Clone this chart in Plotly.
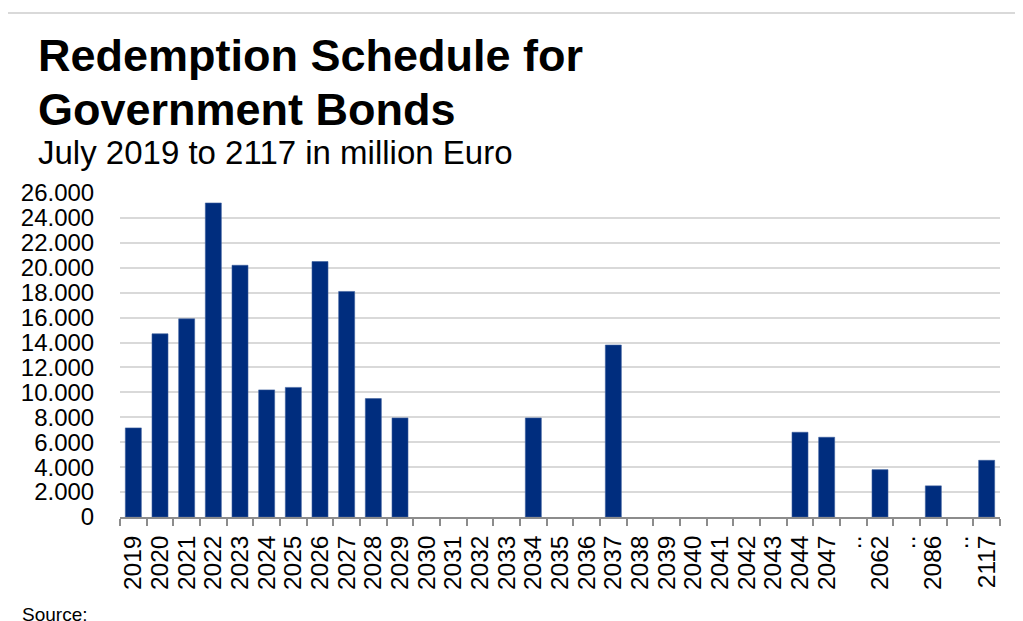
import plotly.graph_objects as go

# redemption schedule, million euro
years = ["2019", "2020", "2021", "2022", "2023", "2024", "2025", "2026", "2027",
         "2028", "2029", "2030", "2031", "2032", "2033", "2034", "2035", "2036",
         "2037", "2038", "2039", "2040", "2041", "2042", "2043", "2044", "2047",
         "..", "2062", "..", "2086", "..", "2117"]
redemptions = [7150, 14700, 15900, 25200, 20200, 10200, 10400, 20500, 18100,
               9500, 7950, 0, 0, 0, 0, 7950, 0, 0,
               13800, 0, 0, 0, 0, 0, 0, 6800, 6400,
               0, 3800, 0, 2500, 0, 4550]
y_ticks = list(range(0, 26001, 2000))

# the page puts an 8px body margin round the figure
OFF = 8
W, H = 1023 - OFF, 621 - OFF
PLOT_L, PLOT_R, PLOT_T, PLOT_B = 120, 1000, 193, 517   # page pixels
FONT = "Liberation Sans, Arial, sans-serif"
BAR_COLOR = "#002D7E"
GRID = "#d9d9d9"
AXIS = "#8c8c8c"


def px(x):
    return (x - PLOT_L) / (PLOT_R - PLOT_L)


def py(y):
    return (PLOT_B - y) / (PLOT_B - PLOT_T)


fig = go.Figure(go.Bar(
    x=list(range(len(years))),
    y=[v if v else None for v in redemptions],
    width=0.6,
    marker_color=BAR_COLOR,
    marker_line=dict(color="#3d5f9e", width=0.6),
    hoverinfo="skip",
))

texts = [
    ("<b>Redemption Schedule for</b>", 55, 45),
    ("<b>Government Bonds</b>", 110, 45),
    ("July 2019 to 2117 in million Euro", 153, 33),
]
for txt, yc, size in texts:
    fig.add_annotation(text=txt, x=px(36), y=py(yc), xref="paper", yref="paper",
                       xanchor="left", yanchor="middle", showarrow=False,
                       font=dict(size=size, color="black", family=FONT))

fig.add_annotation(text="Source:", x=px(20), y=py(614), xref="paper", yref="paper",
                   xanchor="left", yanchor="middle", showarrow=False,
                   font=dict(size=19, color="black", family=FONT))

# light frame round the chart
fig.add_shape(type="rect", xref="paper", yref="paper",
              x0=px(7), x1=px(1040), y0=py(660), y1=py(13),
              line=dict(color=GRID, width=2), layer="below")

fig.update_layout(
    width=W, height=H,
    margin=dict(l=PLOT_L - OFF, r=W - (PLOT_R - OFF), t=PLOT_T - OFF,
                b=H - (PLOT_B - OFF)),
    paper_bgcolor="white",
    plot_bgcolor="white",
    separators=",.",
    showlegend=False,
    font=dict(family=FONT, color="black"),
    xaxis=dict(
        tickmode="array",
        tickvals=list(range(len(years))),
        ticktext=years,
        tickangle=-90,
        tickfont=dict(size=24.5, color="black"),
        ticks="outside", ticklen=7, tickcolor="rgba(0,0,0,0)",
        minor=dict(tickmode="linear", tick0=-0.5, dtick=1, ticks="outside",
                   ticklen=7, tickcolor=AXIS, tickwidth=1.5, showgrid=False),
        range=[-0.5, len(years) - 0.5],
        showline=True, linecolor=AXIS, linewidth=1.5,
        showgrid=False, zeroline=False,
    ),
    yaxis=dict(
        range=[0, 26000],
        tickmode="array",
        tickvals=y_ticks,
        tickformat=",.0f",
        tickfont=dict(size=24, color="black"),
        ticks="outside", ticklen=20, tickcolor="rgba(0,0,0,0)",
        showgrid=True, gridcolor=GRID, gridwidth=1.5,
        zeroline=False, showline=False,
    ),
)

fig.write_html("out.html")
